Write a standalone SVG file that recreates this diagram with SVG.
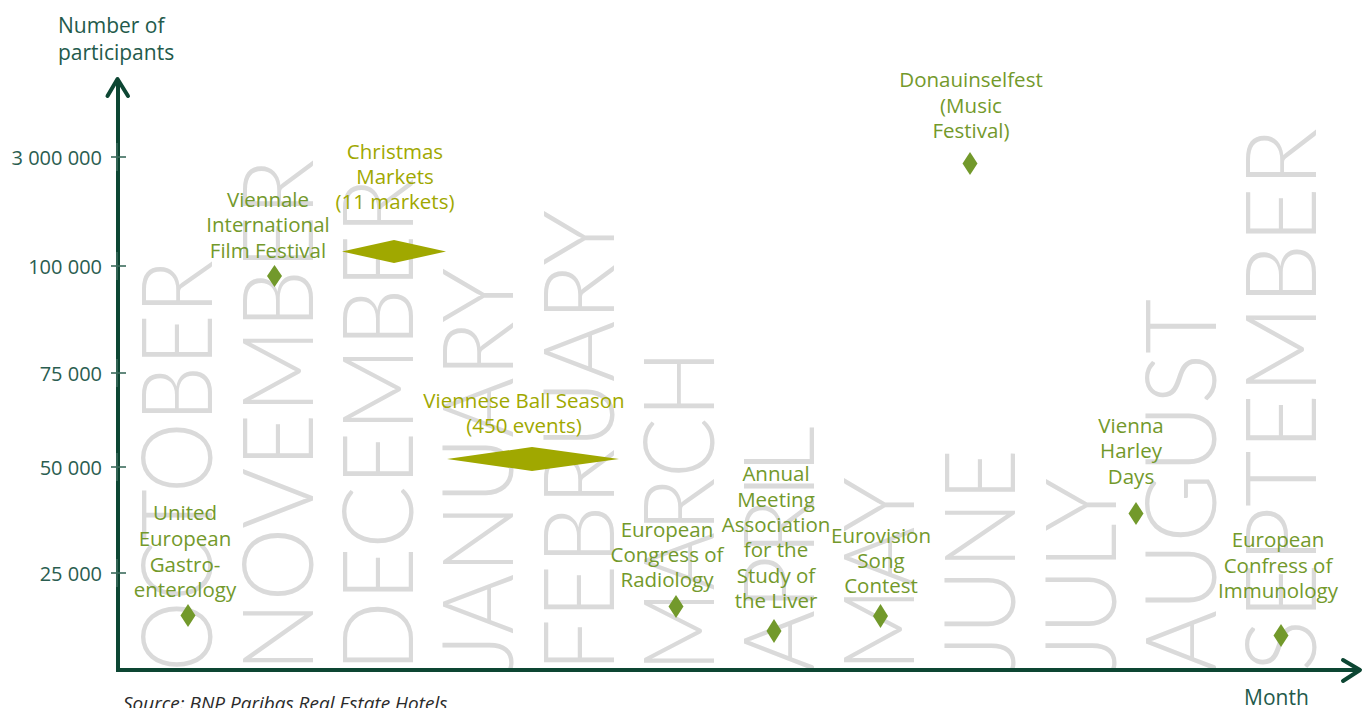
<svg xmlns="http://www.w3.org/2000/svg" width="1370" height="708" viewBox="0 0 1370 708">
<style>
.month{font-family:"Lato","Open Sans",sans-serif;font-weight:300;font-size:99px;fill:#dadada;}
.lbl{font-family:"Open Sans","Noto Sans",sans-serif;font-size:20.5px;font-weight:500;text-anchor:middle;}
.g{fill:#73992b;}
.y{fill:#a0a800;}
.dg{fill:#72992b;}
.dy{fill:#a0a800;}
.tick{font-family:"Open Sans","Noto Sans",sans-serif;font-size:20px;fill:#2a5d50;text-anchor:end;}
.axt{font-family:"Open Sans","Noto Sans",sans-serif;font-size:21px;fill:#235a4b;}
.src{font-family:"Open Sans","Noto Sans",sans-serif;font-style:italic;font-size:19px;fill:#2b2b2b;}
.axis{stroke:#0d4633;stroke-width:4;fill:none;}
.arrow{stroke:#0d4633;stroke-width:4;fill:none;stroke-linecap:round;stroke-linejoin:round;}
.tk{stroke:#3b6b5c;stroke-width:1.6;fill:none;}
</style>
<rect width="1370" height="708" fill="#ffffff"/>
<g id="months">
<text class="month" transform="translate(212,672) rotate(-90)" textLength="412" lengthAdjust="spacingAndGlyphs">OCTOBER</text>
<text class="month" transform="translate(313,672) rotate(-90)" textLength="513" lengthAdjust="spacingAndGlyphs">NOVEMBER</text>
<text class="month" transform="translate(413,672) rotate(-90)" textLength="494" lengthAdjust="spacingAndGlyphs">DECEMBER</text>
<text class="month" transform="translate(513,672) rotate(-90)" textLength="404" lengthAdjust="spacingAndGlyphs">JANUARY</text>
<text class="month" transform="translate(614,672) rotate(-90)" textLength="462" lengthAdjust="spacingAndGlyphs">FEBRUARY</text>
<text class="month" transform="translate(714,672) rotate(-90)" textLength="322" lengthAdjust="spacingAndGlyphs">MARCH</text>
<text class="month" transform="translate(814,672) rotate(-90)" textLength="246" lengthAdjust="spacingAndGlyphs">APRIL</text>
<text class="month" transform="translate(914,672) rotate(-90)" textLength="195" lengthAdjust="spacingAndGlyphs">MAY</text>
<text class="month" transform="translate(1015,672) rotate(-90)" textLength="223" lengthAdjust="spacingAndGlyphs">JUNE</text>
<text class="month" transform="translate(1116,672) rotate(-90)" textLength="194" lengthAdjust="spacingAndGlyphs">JULY</text>
<text class="month" transform="translate(1216,672) rotate(-90)" textLength="373" lengthAdjust="spacingAndGlyphs">AUGUST</text>
<text class="month" transform="translate(1316,672) rotate(-90)" textLength="544" lengthAdjust="spacingAndGlyphs">SEPTEMBER</text>
</g>
<g id="connectors">
<line class="axis" x1="118" y1="672" x2="118" y2="80"/>
<polyline class="arrow" points="107.5,96 117.5,79 128,96"/>
<line class="axis" x1="116" y1="670" x2="1359" y2="670"/>
<polyline class="arrow" points="1343,660 1360,670 1343,681"/>
<g id="ticks">
<line class="tk" x1="111" y1="157" x2="126" y2="157"/><line class="tk" x1="117" y1="143" x2="117" y2="171"/>
<line class="tk" x1="111" y1="266" x2="126" y2="266"/><line class="tk" x1="117" y1="252" x2="117" y2="280"/>
<line class="tk" x1="111" y1="373" x2="126" y2="373"/><line class="tk" x1="117" y1="359" x2="117" y2="387"/>
<line class="tk" x1="111" y1="467" x2="126" y2="467"/><line class="tk" x1="117" y1="453" x2="117" y2="481"/>
<line class="tk" x1="111" y1="573" x2="126" y2="573"/><line class="tk" x1="117" y1="559" x2="117" y2="587"/>
</g>
</g>
<g id="axis-labels">
<text class="axt" x="58" y="33">Number of</text>
<text class="axt" x="58" y="60">participants</text>
<text class="tick" x="102" y="165">3 000 000</text>
<text class="tick" x="102" y="274">100 000</text>
<text class="tick" x="102" y="381">75 000</text>
<text class="tick" x="102" y="475">50 000</text>
<text class="tick" x="102" y="581">25 000</text>
<text class="axt" x="1244" y="705">Month</text>
<text class="src" x="123" y="710">Source: BNP Paribas Real Estate Hotels</text>
</g>
<g id="node-gastro">
<text class="lbl g" x="185"><tspan x="185" y="520">United</tspan><tspan x="185" y="546">European</tspan><tspan x="185" y="572">Gastro-</tspan><tspan x="185" y="597">enterology</tspan></text>
<polygon class="dg" points="188,604 195.5,615.5 188,627 180.5,615.5"/>
</g>
<g id="node-viennale">
<text class="lbl g" x="268"><tspan x="268" y="207">Viennale</tspan><tspan x="268" y="232">International</tspan><tspan x="268" y="258">Film Festival</tspan></text>
<polygon class="dg" points="274.5,265 282,276 274.5,287 267,276"/>
</g>
<g id="node-christmas">
<text class="lbl y" x="395"><tspan x="395" y="159">Christmas</tspan><tspan x="395" y="184">Markets</tspan><tspan x="395" y="209">(11 markets)</tspan></text>
<polygon class="dy" points="394,240 446,251.5 394,263 342,251.5"/>
</g>
<g id="node-ball">
<text class="lbl y" x="524"><tspan x="524" y="408">Viennese Ball Season</tspan><tspan x="524" y="433">(450 events)</tspan></text>
<polygon class="dy" points="532,447 619,459 532,471 447,459"/>
</g>
<g id="node-radiology">
<text class="lbl g" x="667"><tspan x="667" y="537">European</tspan><tspan x="667" y="562">Congress of</tspan><tspan x="667" y="587">Radiology</tspan></text>
<polygon class="dg" points="676,595 683.5,606.5 676,618 668.5,606.5"/>
</g>
<g id="node-liver">
<text class="lbl g" x="776"><tspan x="776" y="481">Annual</tspan><tspan x="776" y="507">Meeting</tspan><tspan x="776" y="532">Association</tspan><tspan x="776" y="557">for the</tspan><tspan x="776" y="583">Study of</tspan><tspan x="776" y="608">the Liver</tspan></text>
<polygon class="dg" points="774,619 781.5,631 774,643 766.5,631"/>
</g>
<g id="node-eurovision">
<text class="lbl g" x="881"><tspan x="881" y="543">Eurovision</tspan><tspan x="881" y="568">Song</tspan><tspan x="881" y="593">Contest</tspan></text>
<polygon class="dg" points="880.5,604 888,616 880.5,628 873,616"/>
</g>
<g id="node-donauinselfest">
<text class="lbl g" x="971"><tspan x="971" y="87">Donauinselfest</tspan><tspan x="971" y="113">(Music</tspan><tspan x="971" y="138">Festival)</tspan></text>
<polygon class="dg" points="970,152 977.5,163.5 970,175 962.5,163.5"/>
</g>
<g id="node-harley">
<text class="lbl g" x="1131"><tspan x="1131" y="433">Vienna</tspan><tspan x="1131" y="458">Harley</tspan><tspan x="1131" y="484">Days</tspan></text>
<polygon class="dg" points="1136,502 1143.5,513.5 1136,525 1128.5,513.5"/>
</g>
<g id="node-immunology">
<text class="lbl g" x="1278"><tspan x="1278" y="547">European</tspan><tspan x="1278" y="573">Confress of</tspan><tspan x="1278" y="598">Immunology</tspan></text>
<polygon class="dg" points="1281,624 1288.5,635.5 1281,647 1273.5,635.5"/>
</g>
</svg>
